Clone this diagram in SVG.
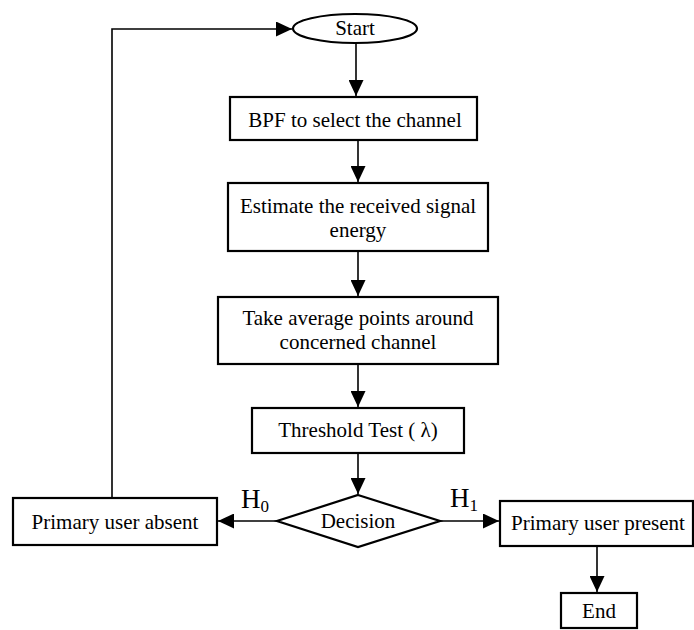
<svg xmlns="http://www.w3.org/2000/svg" width="694" height="630" viewBox="0 0 694 630">
<defs>
<marker id="ah" markerUnits="userSpaceOnUse" markerWidth="16" markerHeight="15" refX="16" refY="7.5" orient="auto">
<path d="M0,0 L16,7.5 L0,15 z" fill="#000"/>
</marker>
<style>
.box{fill:#fff;stroke:#000;stroke-width:2.2}
.t{font-family:"Liberation Serif","Times New Roman",serif;font-size:21px;fill:#000;text-anchor:middle}
.h{font-family:"Liberation Serif","Times New Roman",serif;font-size:27px;fill:#000}
.c{fill:none;stroke:#000;stroke-width:1.6;marker-end:url(#ah)}
</style>
</defs>
<rect width="694" height="630" fill="#fff"/>
<g id="connectors">
<line class="c" x1="356" y1="43" x2="356" y2="96"/>
<line class="c" x1="358" y1="140" x2="358" y2="182"/>
<line class="c" x1="358" y1="251" x2="358" y2="296"/>
<line class="c" x1="358" y1="364" x2="358" y2="407"/>
<line class="c" x1="358" y1="453" x2="358" y2="494"/>
<line class="c" x1="277" y1="521" x2="218" y2="521"/>
<line class="c" x1="440" y1="521" x2="499" y2="521"/>
<line class="c" x1="597" y1="546" x2="597" y2="592"/>
<polyline class="c" points="112,498 112,29 292,29"/>
<text class="h" x="241" y="508">H<tspan font-size="17" dy="4">0</tspan></text>
<text class="h" x="450" y="507">H<tspan font-size="17" dy="4">1</tspan></text>
</g>
<g id="start">
<ellipse class="box" cx="355" cy="28.5" rx="62" ry="14.5"/>
<text class="t" x="355" y="35">Start</text>
</g>
<g id="bpf">
<rect class="box" x="230" y="97" width="247" height="43"/>
<text class="t" x="355" y="127">BPF to select the channel</text>
</g>
<g id="estimate">
<rect class="box" x="228" y="183" width="260" height="68"/>
<text class="t" x="358" y="213">Estimate the received signal</text>
<text class="t" x="358" y="237">energy</text>
</g>
<g id="average">
<rect class="box" x="218" y="297" width="280" height="67"/>
<text class="t" x="358" y="325">Take average points around</text>
<text class="t" x="358" y="349">concerned channel</text>
</g>
<g id="threshold">
<rect class="box" x="252" y="408" width="212" height="45"/>
<text class="t" x="358" y="437">Threshold Test ( λ)</text>
</g>
<g id="decision">
<polygon class="box" points="358,495 440,521 358,547 277,521"/>
<text class="t" x="358" y="528">Decision</text>
</g>
<g id="absent">
<rect class="box" x="13" y="498" width="204" height="47"/>
<text class="t" x="115" y="529">Primary user absent</text>
</g>
<g id="present">
<rect class="box" x="500" y="501" width="193" height="45"/>
<text class="t" x="598" y="530">Primary user present</text>
</g>
<g id="end">
<rect class="box" x="561" y="593" width="76" height="35"/>
<text class="t" x="599" y="618">End</text>
</g>
</svg>
